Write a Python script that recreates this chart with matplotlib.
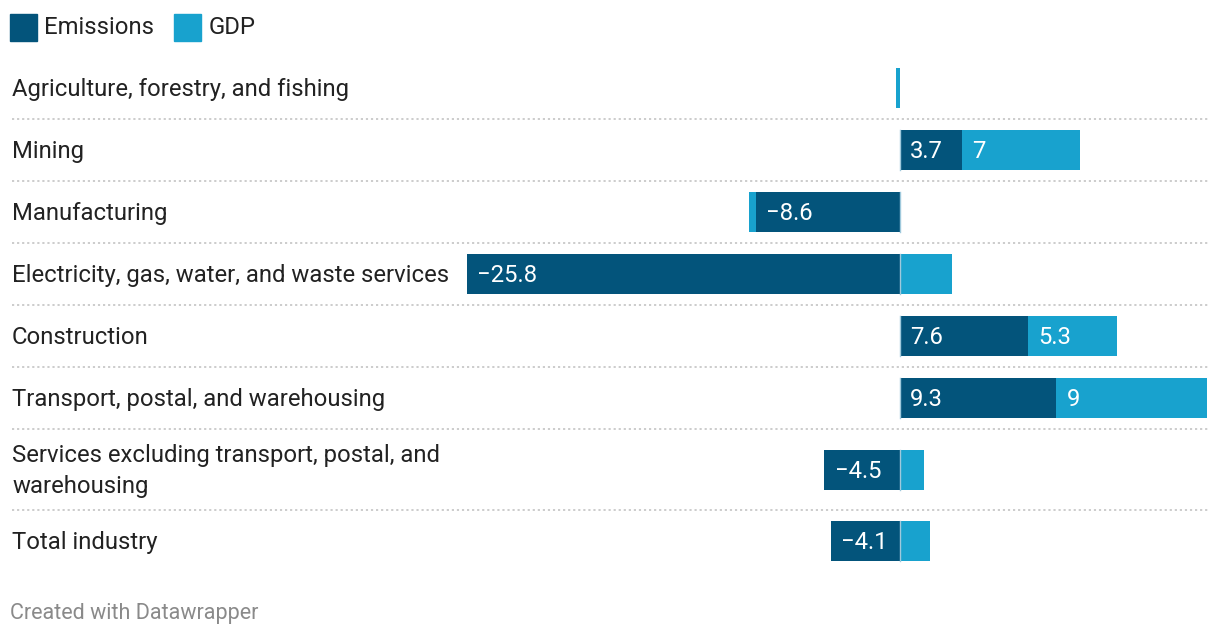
import numpy as np
import matplotlib.pyplot as plt
import matplotlib.transforms as mtransforms

plt.rcParams['font.family'] = ['Roboto', 'DejaVu Sans']

# Data: change by industry
industries = [
    "Agriculture, forestry, and fishing",
    "Mining",
    "Manufacturing",
    "Electricity, gas, water, and waste services",
    "Construction",
    "Transport, postal, and warehousing",
    "Services excluding transport, postal, and\nwarehousing",
    "Total industry",
]
emissions = [0.0, 3.7, -8.6, -25.8, 7.6, 9.3, -4.5, -4.1]
gdp = [-0.25, 7.0, -0.4, 3.1, 5.3, 9.0, 1.4, 1.8]

# Layout (pixels)
W, H = 1220, 636
zero_px = 900
px_per_unit = 16.8
row_heights = [62, 62, 62, 62, 62, 62, 81, 62]
first_top = 57
bar_h = 40
fs = 17.2

c_em = '#03547b'
c_gdp = '#18a2ce'

fig = plt.figure(figsize=(W / 100, H / 100), dpi=100)
ax = fig.add_axes([0, 0, 1, 1])
ax.set_xlim(-zero_px / px_per_unit, (W - zero_px) / px_per_unit)
ax.set_ylim(H, 0)
ax.axis('off')

tops = first_top + np.concatenate([[0], np.cumsum(row_heights)[:-1]])
centers = tops + np.array(row_heights) / 2
xlab = mtransforms.blended_transform_factory(fig.transFigure, ax.transData)

pad = 12 / px_per_unit
for i, name in enumerate(industries):
    y = centers[i]
    e = emissions[i]
    g = gdp[i]
    ax.barh(y, e, height=bar_h, color=c_em, edgecolor='none')
    # GDP stacks on the side of its own sign
    if (g >= 0) == (e >= 0):
        left = e
    else:
        left = 0
    ax.barh(y, g, left=left, height=bar_h, color=c_gdp, edgecolor='none')
    ax.text(12 / W, y + 1.5, name, transform=xlab, ha='left', va='center',
            fontsize=fs, color='#222222', linespacing=1.4)
    if abs(e) >= 3.5:
        x0 = min(0, e)
        lbl = f"{e:g}".replace('-', '\u2212')
        ax.text(x0 + pad - 0.1, y + 1.5, lbl, ha='left', va='center', color='white', fontsize=fs)
    if abs(g) >= 3.5:
        x0 = left if g >= 0 else left + g
        lbl = f"{g:g}".replace('-', '\u2212')
        ax.text(x0 + pad - 0.1, y + 1.5, lbl, ha='left', va='center', color='white', fontsize=fs)
    # zero separator line
    if e != 0:
        ax.plot([0, 0], [y - bar_h / 2, y + bar_h / 2], color='#9fc9dc', lw=1)

# dotted separators between rows
for t in tops[1:]:
    ax.plot([12 / W, 1208 / W], [t, t], transform=xlab, color='#c8c8c8',
            lw=1.3, linestyle=(0, (1.2, 1.6)))

# legend
fig.patches.append(plt.Rectangle((10 / W, 1 - 41 / H), 27 / W, 27 / H,
                                 transform=fig.transFigure, color=c_em))
fig.text(44 / W, 1 - 27 / H, "Emissions", ha='left', va='center', fontsize=fs, color='#222222')
fig.patches.append(plt.Rectangle((174 / W, 1 - 41 / H), 27 / W, 27 / H,
                                 transform=fig.transFigure, color=c_gdp))
fig.text(209 / W, 1 - 27 / H, "GDP", ha='left', va='center', fontsize=fs, color='#222222')

fig.text(10 / W, 1 - 613 / H, "Created with Datawrapper", ha='left', va='center',
         fontsize=15.5, color='#8a8a8a')

fig.savefig('out.png', dpi=100)
